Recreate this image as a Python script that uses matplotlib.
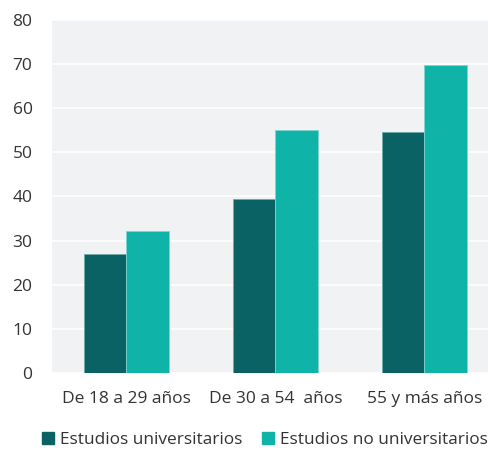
import matplotlib.pyplot as plt
import numpy as np
from matplotlib.patches import Patch

plt.rcParams['font.family'] = ['Open Sans', 'DejaVu Sans']

categories = ["De 18 a 29 años", "De 30 a 54  años", "55 y más años"]
series_names = ["Estudios universitarios", "Estudios no universitarios"]
universitarios = [26.9, 39.5, 54.6]
no_universitarios = [32.2, 55.1, 69.8]
yticks = [0, 10, 20, 30, 40, 50, 60, 70, 80]

dark = "#0b6264"
light = "#10b3a8"
text_color = "#333333"

fig = plt.figure(figsize=(4.89, 4.5), dpi=100)
ax = fig.add_axes([52 / 489, 1 - 373 / 450, 447 / 489, 353 / 450])
ax.set_facecolor("#f1f2f4")

x = np.arange(len(categories))
w = 0.285
ax.bar(x - w / 2, universitarios, w, color=dark, edgecolor="#6fa9a9", linewidth=0.6, zorder=3)
ax.bar(x + w / 2, no_universitarios, w, color=light, edgecolor="#7fd6cf", linewidth=0.6, zorder=3)

ax.set_xlim(-0.5, len(categories) - 0.5)
ax.set_ylim(0, 80)
ax.set_yticks(yticks)
ax.set_xticks(x)
ax.set_xticklabels(categories)
ax.yaxis.grid(True, color="white", linewidth=1.2, zorder=1)
ax.set_axisbelow(True)
for s in ax.spines.values():
    s.set_visible(False)
ax.tick_params(axis="both", length=0, labelsize=12.5, colors=text_color)
ax.tick_params(axis="y", pad=14)
ax.tick_params(axis="x", pad=13)

handles = [Patch(color=dark), Patch(color=light)]
fig.legend(handles, series_names, loc="center", bbox_to_anchor=(265 / 489, 1 - 440 / 450),
           ncol=2, frameon=False, fontsize=12.4, handlelength=0.72, handleheight=0.72,
           handletextpad=0.35, columnspacing=1.1, labelcolor=text_color,
           borderpad=0, borderaxespad=0)

fig.savefig("out.png", dpi=100)
